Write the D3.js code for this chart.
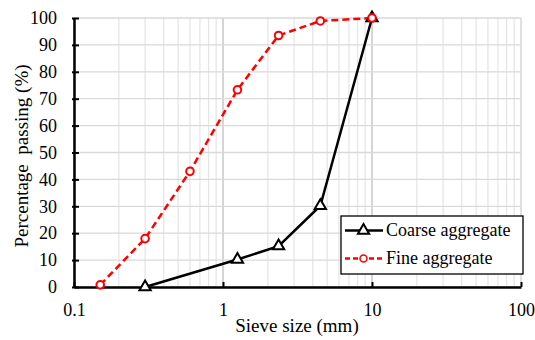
<!DOCTYPE html>
<html>
<head>
<meta charset="utf-8">
<script src="https://cdn.jsdelivr.net/npm/d3@7"></script>
<style>
  body { margin: 0; background: #fff; }
</style>
</head>
<body>
<div id="vis"></div>
<script>
// sieve sizes (mm) and percentage passing
const coarseSize = [0.3, 1.25, 2.36, 4.5, 10];
const coarsePass = [0, 10.2, 15.2, 30.2, 100];
const fineSize = [0.15, 0.3, 0.6, 1.25, 2.36, 4.5, 10];
const finePass = [0.8, 18, 43, 73.3, 93.5, 98.9, 100];

const xTicks = [0.1, 1, 10, 100];
const yTicks = [0, 10, 20, 30, 40, 50, 60, 70, 80, 90, 100];

const FONT = 'Liberation Serif';
const W = 535, H = 340;
const margin = { top: 18, right: 14, bottom: 53, left: 74 };
const width = W - margin.left - margin.right;
const height = H - margin.top - margin.bottom;

const $svg = d3.select('#vis').append('svg')
  .attr('width', W).attr('height', H)
  .attr('font-family', FONT);
$svg.append('rect').attr('width', W).attr('height', H).attr('fill', '#fff');
const $plot = $svg.append('g')
  .attr('transform', `translate(${margin.left}, ${margin.top})`);

const x = d3.scaleLog().domain([0.1, 100]).range([0, width]);
const y = d3.scaleLinear().domain([0, 100]).range([height, 0]);

// minor + major vertical grid
const minor = [];
for (let d = 0.1; d < 100; d *= 10) {
  for (let k = 1; k <= 10; k++) minor.push(d * k);
}
$plot.append('g').selectAll('line')
  .data(minor)
  .join('line')
  .attr('x1', d => x(d)).attr('x2', d => x(d))
  .attr('y1', 0).attr('y2', height)
  .attr('stroke', d => xTicks.some(t => Math.abs(t - d) < 1e-9) ? '#d0d0d0' : '#e6e6e6')
  .attr('stroke-width', 1.3);

$plot.append('g').selectAll('line')
  .data(yTicks)
  .join('line')
  .attr('x1', 0).attr('x2', width)
  .attr('y1', d => y(d)).attr('y2', d => y(d))
  .attr('stroke', '#d9d9d9')
  .attr('stroke-width', 1.3);

// axes
const xAxis = d3.axisBottom(x).tickValues(xTicks)
  .tickFormat(d => String(d)).tickSizeInner(-5).tickSizeOuter(0).tickPadding(16);
const yAxis = d3.axisLeft(y).tickValues(yTicks)
  .tickSizeInner(-5).tickSizeOuter(0).tickPadding(17);

$plot.append('g')
  .attr('transform', `translate(0, ${height})`)
  .call(xAxis)
  .attr('font-family', FONT)
  .attr('font-size', 18)
  .call(g => g.select('.domain').attr('stroke-width', 2.5))
  .call(g => g.selectAll('.tick line').attr('stroke-width', 2))
  .call(g => g.selectAll('.tick text').attr('font-family', FONT).attr('font-size', 18));

$plot.append('g')
  .call(yAxis)
  .attr('font-family', FONT)
  .attr('font-size', 18)
  .call(g => g.select('.domain').attr('stroke-width', 2.5))
  .call(g => g.selectAll('.tick line').attr('stroke-width', 2).attr('x1', -2))
  .call(g => g.selectAll('.tick text').attr('font-family', FONT).attr('font-size', 18));

// lines
const line = d3.line().x(d => x(d[0])).y(d => y(d[1]));
const coarse = coarseSize.map((s, i) => [s, coarsePass[i]]);
const fine = fineSize.map((s, i) => [s, finePass[i]]);

$plot.append('path')
  .datum(fine)
  .attr('d', line)
  .attr('fill', 'none')
  .attr('stroke', '#ff0000')
  .attr('stroke-width', 2.5)
  .attr('stroke-dasharray', '7,4');

$plot.append('path')
  .datum(coarse)
  .attr('d', line)
  .attr('fill', 'none')
  .attr('stroke', '#000')
  .attr('stroke-width', 2.5);

const tri = d3.symbol().type(d3.symbolTriangle).size(55);

$plot.append('g').selectAll('path')
  .data(coarse)
  .join('path')
  .attr('d', tri)
  .attr('transform', d => `translate(${x(d[0])}, ${y(d[1])})`)
  .attr('fill', '#fff')
  .attr('stroke', '#000')
  .attr('stroke-width', 2);

$plot.append('g').selectAll('circle')
  .data(fine)
  .join('circle')
  .attr('cx', d => x(d[0]))
  .attr('cy', d => y(d[1]))
  .attr('r', 3.8)
  .attr('fill', '#fff')
  .attr('stroke', '#ff0000')
  .attr('stroke-width', 2);

// axis titles
$svg.append('text')
  .attr('x', 297)
  .attr('y', 332)
  .attr('text-anchor', 'middle')
  .attr('font-family', FONT)
  .attr('font-size', 19)
  .text('Sieve size (mm)');

$svg.append('text')
  .attr('transform', 'translate(27.5, 156) rotate(-90)')
  .attr('text-anchor', 'middle')
  .attr('font-family', FONT)
  .attr('font-size', 19)
  .attr('xml:space', 'preserve')
  .text('Percentage  passing (%)');

// legend
const $legend = $svg.append('g').attr('transform', 'translate(341, 216)');
$legend.append('rect')
  .attr('width', 182).attr('height', 58)
  .attr('fill', '#fff').attr('stroke', '#000').attr('stroke-width', 1.3);

const items = [
  { name: 'Coarse aggregate', color: '#000', dash: null, mark: 'tri' },
  { name: 'Fine aggregate', color: '#ff0000', dash: '5,3', mark: 'circle' }
];
items.forEach((it, i) => {
  const cy = 14.5 + i * 28;
  $legend.append('line')
    .attr('x1', 4).attr('x2', 42).attr('y1', cy).attr('y2', cy)
    .attr('stroke', it.color).attr('stroke-width', 2.5)
    .attr('stroke-dasharray', it.dash);
  if (it.mark === 'tri') {
    $legend.append('path').attr('d', tri)
      .attr('transform', `translate(22.5, ${cy})`)
      .attr('fill', '#fff').attr('stroke', '#000').attr('stroke-width', 2);
  } else {
    $legend.append('circle').attr('cx', 22.5).attr('cy', cy).attr('r', 3.5)
      .attr('fill', '#fff').attr('stroke', '#ff0000').attr('stroke-width', 1.5);
  }
  $legend.append('text')
    .attr('x', 45).attr('y', cy + 5.5)
    .attr('font-family', FONT)
    .attr('font-size', 18)
    .text(it.name);
});
</script>
</body>
</html>
